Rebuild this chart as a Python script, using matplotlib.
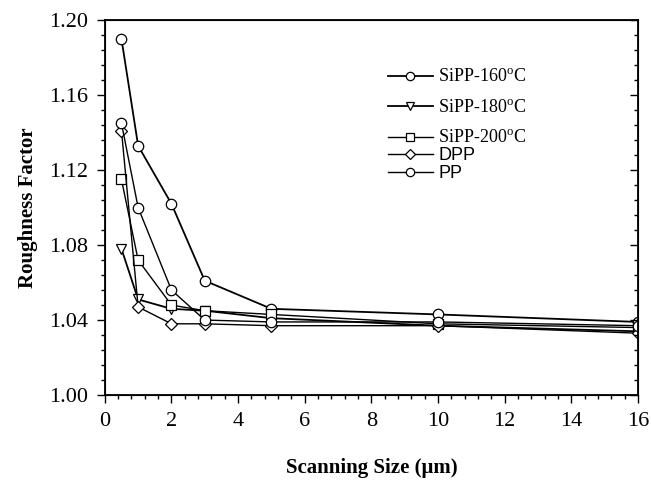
import matplotlib
matplotlib.use('Agg')
import matplotlib.pyplot as plt
from matplotlib.ticker import MultipleLocator

# Scanning sizes (um)
x = [0.5, 1, 2, 3, 5, 10, 16]

# Roughness factor per sample
sipp160 = [1.190, 1.133, 1.102, 1.061, 1.046, 1.043, 1.039]
sipp180 = [1.078, 1.051, 1.046, 1.045, 1.041, 1.037, 1.034]
sipp200 = [1.115, 1.072, 1.048, 1.045, 1.043, 1.038, 1.036]
dpp = [1.141, 1.047, 1.038, 1.038, 1.037, 1.037, 1.033]
pp = [1.145, 1.100, 1.056, 1.040, 1.039, 1.039, 1.037]

labels = ['SiPP-160$^\\mathrm{o}$C', 'SiPP-180$^\\mathrm{o}$C', 'SiPP-200$^\\mathrm{o}$C', 'DPP', 'PP']

plt.rcParams['mathtext.fontset'] = 'custom'
plt.rcParams['mathtext.rm'] = 'Liberation Serif'

fig = plt.figure(figsize=(6.51, 4.8), dpi=100)
ax = fig.add_axes([0.161, 0.177, 0.819, 0.781])

h1, = ax.plot(x, sipp160, color='black', lw=1.3, marker='o', ms=7.5, mfc='white', mec='black', mew=0.9, label=labels[0])
h2, = ax.plot(x, sipp180, color='black', lw=1.3, marker='v', ms=7, mfc='white', mec='black', mew=0.9, label=labels[1])
h3, = ax.plot(x, sipp200, color='black', lw=1.0, marker='s', ms=6.5, mfc='white', mec='black', mew=0.9, label=labels[2])
h4, = ax.plot(x, dpp, color='black', lw=1.0, marker='D', ms=6.5, mfc='white', mec='black', mew=0.9, label=labels[3])
h5, = ax.plot(x, pp, color='black', lw=1.0, marker='o', ms=7.5, mfc='white', mec='black', mew=0.9, label=labels[4])

ax.set_xlim(0, 16)
ax.set_ylim(1.00, 1.20)
ax.xaxis.set_major_locator(MultipleLocator(2))
ax.xaxis.set_minor_locator(MultipleLocator(0.4))
ax.yaxis.set_major_locator(MultipleLocator(0.04))
ax.yaxis.set_minor_locator(MultipleLocator(0.008))
ax.yaxis.set_major_formatter(plt.FuncFormatter(lambda v, p: f'{v:.2f}'))

ax.tick_params(which='both', direction='out', top=False, right=False, width=1)
ax.tick_params(which='major', length=6, pad=6)
ax.tick_params(which='minor', length=3)
for lab in ax.get_xticklabels() + ax.get_yticklabels():
    lab.set_fontfamily('Liberation Serif')
    lab.set_fontsize(16)

# inward ticks on the right spine
ax2 = ax.twinx()
ax2.set_ylim(1.00, 1.20)
ax2.yaxis.set_major_locator(MultipleLocator(0.04))
ax2.yaxis.set_minor_locator(MultipleLocator(0.008))
ax2.tick_params(which='both', direction='in', labelright=False, width=1)
ax2.tick_params(which='major', length=6)
ax2.tick_params(which='minor', length=3)

for sp in ax.spines.values():
    sp.set_linewidth(1.3)

ax.set_xlabel('Scanning Size (\u03bcm)', fontfamily='Liberation Serif', fontweight='bold', fontsize=15, labelpad=20)
ax.set_ylabel('Roughness Factor', fontfamily='Liberation Serif', fontweight='bold', fontsize=15, labelpad=8)

# legend split in two groups to mimic uneven spacing
leg1 = ax2.legend([h1, h2, h3], labels[:3], loc='upper left', bbox_to_anchor=(0.5, 0.913), frameon=False,
                  fontsize=13, handlelength=2.5, labelspacing=0.72, handletextpad=0.3, markerscale=0.8)
for t in leg1.get_texts():
    t.set_fontfamily('Liberation Serif')
leg2 = ax.legend([h4, h5], labels[3:], loc='upper left', bbox_to_anchor=(0.5, 0.704), frameon=False,
                 fontsize=13, handlelength=2.5, labelspacing=0.05, handletextpad=0.3, markerscale=0.8)
for t in leg2.get_texts():
    t.set_fontfamily('Liberation Sans')

plt.savefig('out.png', dpi=100)
